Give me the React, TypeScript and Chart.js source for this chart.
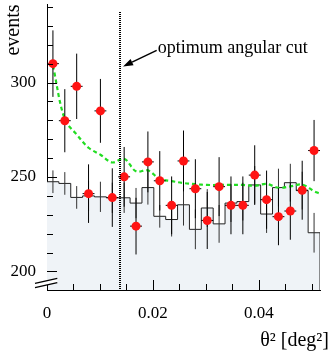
import React, { useEffect, useRef } from 'react';
import { Chart, registerables } from 'chart.js';

Chart.register(...registerables);

// ---------- data ----------
const binWidth = 0.00224;
const binCenters = [
  0.00112, 0.00336, 0.0056, 0.00784, 0.01008, 0.01232, 0.01456, 0.0168,
  0.01904, 0.02128, 0.02352, 0.02576, 0.028, 0.03024, 0.03248, 0.03472,
  0.03696, 0.0392, 0.04144, 0.04368, 0.04592, 0.04816, 0.0504,
];
// background (off-source) histogram
const bgCounts = [
  247.5, 246.6, 239.2, 240, 239.5, 239, 239, 236.2, 244.4, 229.2, 227.5, 235.3,
  222.3, 233.6, 225.2, 236.2, 237, 245.8, 230.4, 244.4, 247, 242.8, 220.5,
];
const bgErrors = [
  6, 6, 6, 8, 8, 8, 8, 8, 9, 6, 9, 11, 10.5, 10, 10, 10, 10, 10, 10, 10, 10, 10, 10.5,
];
// on-source events
const onCounts = [
  310, 279.8, 298, 241.2, 285, 239.1, 250.1, 224, 258, 248, 235, 258.5, 243.8,
  227, 244.9, 235, 235, 251, 238, 229, 232, 243, 264,
];
const onErrors = [
  17.6, 16.7, 17.3, 15.5, 16.9, 15.5, 15.8, 15.0, 16.1, 15.7, 15.3, 16.1, 15.6,
  15.1, 15.6, 15.3, 15.3, 15.8, 15.4, 15.1, 15.2, 15.6, 16.2,
];
// green dashed expectation curve
const fitX = [
  0.00112, 0.00336, 0.0056, 0.00784, 0.01008, 0.01232, 0.01456, 0.0168,
  0.01904, 0.02128, 0.02352, 0.02576, 0.028, 0.03024, 0.03248, 0.03472,
  0.03696, 0.0392, 0.04144, 0.04368, 0.04592, 0.04816, 0.0504, 0.0515,
];
const fitY = [
  309, 280.5, 272.5, 265.5, 261.8, 257.7, 259.7, 253, 253.5, 249, 247.8, 246.8,
  246.2, 245.8, 245.8, 245.8, 245.8, 245.4, 246.3, 244.3, 245, 246, 242.5, 241.2,
];

const xMin = 0;
const xMax = 0.05152;
const yMin = 190.2;
const yMax = 341.3;
const xMajorTicks = [0, 0.02, 0.04];
const yMajorTicks = [200, 250, 300];
const cutValue = 0.0137;
const cutTop = 337.5;
const cutLabel = 'optimum angular cut';
const labelPos = { x: 0.0209, y: 315.8 };
const arrowFrom = { x: 0.0207, y: 317 };
const arrowTo = { x: 0.01435, y: 308.5 };
const yTitle = 'events';
const xTitle = 'θ² [deg²]';

const FONT = "'Liberation Serif', 'Times New Roman', serif";

const isMajor = (v: number, majors: number[]) =>
  majors.some((m) => Math.abs(m - v) < 1e-9);

const rootStyle = {
  id: 'rootStyle',
  afterDatasetDraw(chart: any, args: any) {
    if (args.index !== 0) return;
    const { ctx } = chart;
    const xs = chart.scales.x;
    const ys = chart.scales.y;
    ctx.save();
    ctx.strokeStyle = '#333';
    ctx.lineWidth = 1;
    binCenters.forEach((c, i) => {
      const px = xs.getPixelForValue(c);
      ctx.beginPath();
      ctx.moveTo(px, ys.getPixelForValue(bgCounts[i] + bgErrors[i]));
      ctx.lineTo(px, ys.getPixelForValue(bgCounts[i] - bgErrors[i]));
      ctx.stroke();
    });
    ctx.restore();
  },
  beforeDatasetDraw(chart: any, args: any) {
    if (args.index !== 2) return;
    const { ctx } = chart;
    const xs = chart.scales.x;
    const ys = chart.scales.y;
    ctx.save();
    ctx.strokeStyle = '#000';
    ctx.lineWidth = 1;
    binCenters.forEach((c, i) => {
      const px = xs.getPixelForValue(c);
      const py = ys.getPixelForValue(onCounts[i]);
      ctx.beginPath();
      ctx.moveTo(px, ys.getPixelForValue(onCounts[i] + onErrors[i]));
      ctx.lineTo(px, ys.getPixelForValue(onCounts[i] - onErrors[i]));
      ctx.moveTo(xs.getPixelForValue(c - binWidth / 2), py);
      ctx.lineTo(xs.getPixelForValue(c + binWidth / 2), py);
      ctx.stroke();
    });
    ctx.restore();
  },
  afterDraw(chart: any) {
    const { ctx, chartArea } = chart;
    const xs = chart.scales.x;
    const ys = chart.scales.y;
    const { left, bottom } = chartArea;
    ctx.save();
    // inward ticks
    ctx.strokeStyle = '#000';
    ctx.lineWidth = 1;
    ys.ticks.forEach((t: any) => {
      const py = Math.round(ys.getPixelForValue(t.value)) + 0.5;
      const len = isMajor(t.value, yMajorTicks) ? 10 : 6;
      ctx.beginPath();
      ctx.moveTo(left, py);
      ctx.lineTo(left + len, py);
      ctx.stroke();
    });
    xs.ticks.forEach((t: any) => {
      const px = Math.round(xs.getPixelForValue(t.value)) + 0.5;
      const len = isMajor(t.value, xMajorTicks) ? 10 : 6;
      ctx.beginPath();
      ctx.moveTo(px, bottom);
      ctx.lineTo(px, bottom - len);
      ctx.stroke();
    });
    // axis break mark
    ctx.fillStyle = '#fff';
    ctx.beginPath();
    ctx.moveTo(left - 12, bottom - 6.7);
    ctx.lineTo(left + 10.3, bottom - 11.7);
    ctx.lineTo(left + 10.3, bottom - 7.3);
    ctx.lineTo(left - 12, bottom - 2.3);
    ctx.closePath();
    ctx.fill();
    ctx.lineWidth = 1.3;
    ctx.beginPath();
    ctx.moveTo(left - 12, bottom - 6.7);
    ctx.lineTo(left + 10.3, bottom - 11.7);
    ctx.moveTo(left - 12, bottom - 2.3);
    ctx.lineTo(left + 10.3, bottom - 7.3);
    ctx.stroke();
    // dotted cut line
    const cx = Math.round(xs.getPixelForValue(cutValue));
    ctx.lineWidth = 2;
    ctx.setLineDash([1, 1]);
    ctx.beginPath();
    ctx.moveTo(cx, Math.round(ys.getPixelForValue(cutTop)));
    ctx.lineTo(cx, bottom);
    ctx.stroke();
    ctx.setLineDash([]);
    // arrow
    const ax0 = xs.getPixelForValue(arrowFrom.x);
    const ay0 = ys.getPixelForValue(arrowFrom.y);
    const ax1 = xs.getPixelForValue(arrowTo.x);
    const ay1 = ys.getPixelForValue(arrowTo.y);
    const ang = Math.atan2(ay1 - ay0, ax1 - ax0);
    const hl = 10;
    const hw = 3.5;
    const bx = ax1 - hl * Math.cos(ang);
    const by = ay1 - hl * Math.sin(ang);
    ctx.lineWidth = 1.5;
    ctx.beginPath();
    ctx.moveTo(ax0, ay0);
    ctx.lineTo(bx, by);
    ctx.stroke();
    ctx.fillStyle = '#000';
    ctx.beginPath();
    ctx.moveTo(ax1, ay1);
    ctx.lineTo(bx + hw * Math.sin(ang), by - hw * Math.cos(ang));
    ctx.lineTo(bx - hw * Math.sin(ang), by + hw * Math.cos(ang));
    ctx.closePath();
    ctx.fill();
    // annotation text
    ctx.font = `18px ${FONT}`;
    ctx.textAlign = 'left';
    ctx.textBaseline = 'alphabetic';
    ctx.fillText(cutLabel, xs.getPixelForValue(labelPos.x), ys.getPixelForValue(labelPos.y));
    // x title
    ctx.font = `20px ${FONT}`;
    ctx.textAlign = 'right';
    ctx.fillText(xTitle, chart.width - 3, chart.height - 8);
    ctx.restore();
  },
};

export default function App() {
  const ref = useRef<HTMLCanvasElement | null>(null);
  useEffect(() => {
    if (!ref.current) return;
    const histData = binCenters.map((c, i) => ({ x: c - binWidth / 2, y: bgCounts[i] }));
    histData.push({ x: binCenters[binCenters.length - 1] + binWidth / 2, y: yMin });
    const chart = new Chart(ref.current, {
      type: 'scatter',
      data: {
        datasets: [
          {
            label: 'background',
            data: histData,
            showLine: true,
            stepped: 'before',
            borderColor: '#222',
            borderWidth: 1,
            backgroundColor: '#eff3f7',
            fill: 'start',
            pointRadius: 0,
            order: 3,
          },
          {
            label: 'expectation',
            data: fitX.map((x, i) => ({ x, y: fitY[i] })),
            showLine: true,
            borderColor: '#22dd22',
            borderWidth: 2.2,
            borderDash: [4, 3],
            tension: 0.35,
            fill: false,
            pointRadius: 0,
            order: 2,
          },
          {
            label: 'on-source',
            data: binCenters.map((x, i) => ({ x, y: onCounts[i] })),
            showLine: false,
            pointRadius: 4.5,
            pointBackgroundColor: '#ff1414',
            pointBorderWidth: 0,
            order: 1,
          },
        ],
      },
      options: {
        animation: false,
        responsive: false,
        devicePixelRatio: 1,
        events: [],
        layout: { padding: { left: 0, right: 12, top: 0, bottom: 0 } },
        plugins: { legend: { display: false }, tooltip: { enabled: false } },
        scales: {
          x: {
            type: 'linear',
            min: xMin,
            max: xMax,
            border: { display: true, color: '#000', width: 1 },
            grid: { display: false, drawTicks: false, tickLength: 0 },
            ticks: {
              stepSize: 0.005,
              includeBounds: false,
              autoSkip: false,
              maxRotation: 0,
              padding: 13,
              color: '#000',
              font: { family: FONT, size: 17 },
              callback: (v: any) => (isMajor(Number(v), xMajorTicks) ? String(Number(v)) : ''),
            },
            afterFit: (s: any) => {
              s.height = 64;
              s.paddingLeft = 0;
              s.paddingRight = 0;
            },
          },
          y: {
            type: 'linear',
            min: yMin,
            max: yMax,
            border: { display: true, color: '#000', width: 1 },
            grid: { display: false, drawTicks: false, tickLength: 0 },
            ticks: {
              stepSize: 10,
              includeBounds: false,
              autoSkip: false,
              padding: 11,
              color: '#000',
              font: { family: FONT, size: 17 },
              callback: (v: any) => (isMajor(Number(v), yMajorTicks) ? String(Number(v)) : ''),
            },
            title: {
              display: true,
              text: yTitle,
              align: 'end',
              color: '#000',
              font: { family: FONT, size: 20 },
              padding: { top: 2, bottom: 0 },
            },
            afterFit: (s: any) => {
              s.width = 47;
              s.paddingTop = 0;
              s.paddingBottom = 0;
            },
          },
        },
      },
      plugins: [rootStyle],
    } as any);
    return () => chart.destroy();
  }, []);
  return (
    <div style={{ position: 'fixed', left: 0, top: 0, width: 332, height: 354, background: '#fff' }}>
      <canvas ref={ref} width={332} height={354} style={{ width: 332, height: 354, display: 'block' }} />
    </div>
  );
}
